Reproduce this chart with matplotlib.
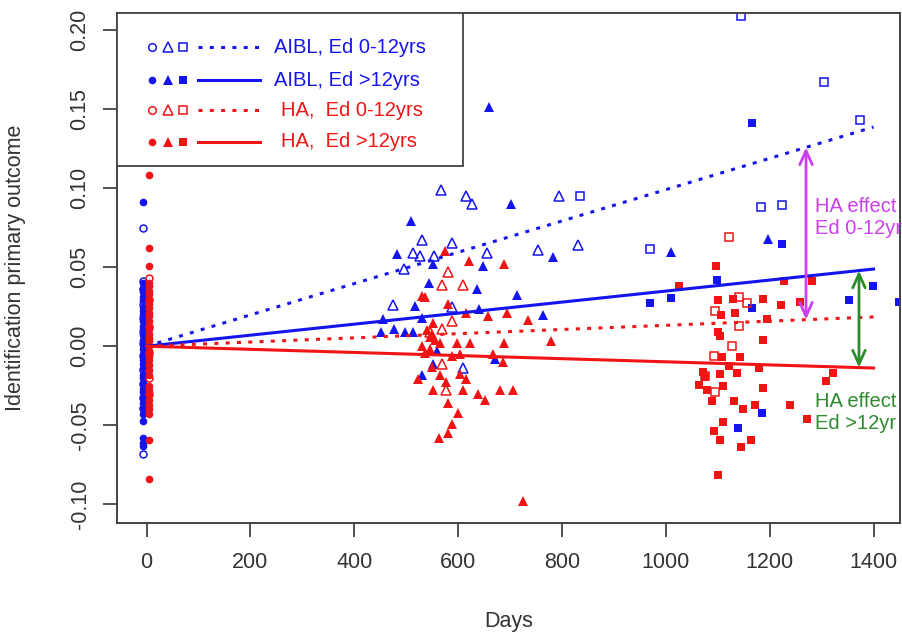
import numpy as np
import matplotlib
matplotlib.use("Agg")
import matplotlib.pyplot as plt
from matplotlib.patches import Rectangle

plt.rcParams["font.family"] = ["Liberation Sans", "DejaVu Sans"]
plt.rcParams["axes.unicode_minus"] = False

BLUE = "#1414ee"
RED = "#f01414"
MAGENTA = "#cc3fee"
GREEN = "#2e8b2e"

# ---- data ----
# baseline visit (circles), plotted just left / right of day 0
aibl_day0 = -7
ha_day0 = 5
aibl_lo_circle_y = [0.075, 0.041, 0.036, 0.027, 0.018, 0.009, 0.002, -0.006,
                    -0.015, -0.024, -0.033, -0.039, -0.068]
aibl_hi_circle_y = [0.091, 0.040, 0.037, 0.034, 0.031, 0.029, 0.025, 0.022,
                    0.020, 0.016, 0.013, 0.011, 0.007, 0.004, 0.001, -0.002,
                    -0.005, -0.009, -0.011, -0.014, -0.018, -0.020, -0.023,
                    -0.027, -0.029, -0.032, -0.036, -0.040, -0.043, -0.047,
                    -0.058, -0.061, -0.063]
ha_lo_circle_y = [0.043, 0.029, 0.012, -0.004, -0.020, -0.030]
ha_hi_circle_y = [0.108, 0.062, 0.051, 0.040, 0.038, 0.035, 0.033, 0.030,
                  0.027, 0.024, 0.021, 0.019, 0.016, 0.013, 0.011, 0.008,
                  0.005, 0.003, 0.000, -0.003, -0.006, -0.009, -0.012,
                  -0.015, -0.018, -0.025, -0.028, -0.031, -0.034, -0.037,
                  -0.040, -0.043, -0.059, -0.084]

# second visit (triangles)
aibl_lo_tri_x = [567, 615, 626, 795, 530, 589, 513, 526, 553, 655, 753, 831,
                 496, 475, 588, 610]
aibl_lo_tri_y = [0.099, 0.095, 0.090, 0.095, 0.067, 0.065, 0.059, 0.057,
                 0.057, 0.059, 0.061, 0.064, 0.049, 0.026, 0.025, -0.014]
aibl_hi_tri_x = [510, 701, 483, 552, 647, 782, 544, 636, 714, 517, 530, 641,
                 763, 456, 451, 476, 498, 514, 559, 671, 530, 552, 660, 1010,
                 1196]
aibl_hi_tri_y = [0.079, 0.090, 0.058, 0.052, 0.051, 0.0565, 0.040, 0.036,
                 0.0325, 0.0255, 0.0177, 0.0238, 0.0198, 0.017, 0.009, 0.0108,
                 0.0087, 0.0087, -0.003, -0.008, -0.018, -0.0114, 0.151,
                 0.0594, 0.068]
ha_lo_tri_x = [581, 568, 610, 588, 568, 546, 577, 568]
ha_lo_tri_y = [0.047, 0.039, 0.039, 0.016, 0.0108, 0.009, -0.028, -0.0114]
ha_hi_tri_x = [575, 620, 689, 530, 536, 581, 616, 658, 694, 735, 552, 540,
               545, 565, 597, 623, 689, 778, 536, 604, 668, 687, 549, 523,
               565, 577, 604, 616, 551, 609, 639, 652, 681, 706, 581, 599,
               588, 581, 563, 724, 588, 530, 549, 556, 545]
ha_hi_tri_y = [0.060, 0.054, 0.052, 0.032, 0.031, 0.027, 0.021, 0.019, 0.021,
               0.0167, 0.0146, 0.010, 0.006, 0.0023, 0.0023, 0.0023, 0.0023,
               0.0034, -0.004, -0.005, -0.005, -0.010, -0.013, -0.021, -0.018,
               -0.0226, -0.0177, -0.0205, -0.028, -0.028, -0.030, -0.034,
               -0.028, -0.028, -0.036, -0.042, -0.049, -0.055, -0.058, -0.098,
               -0.006, 0.000, 0.008, 0.004, -0.002]

# third visit (squares)
aibl_lo_sq_x = [835, 970, 1145, 1304, 1374, 1183, 1223]
aibl_lo_sq_y = [0.095, 0.0615, 0.209, 0.167, 0.143, 0.088, 0.089]
aibl_hi_sq_x = [1166, 1099, 970, 1010, 1166, 1352, 1399, 1450, 1185, 1139, 1224]
aibl_hi_sq_y = [0.141, 0.0419, 0.0275, 0.0303, 0.024, 0.029, 0.038, 0.0277,
                -0.0424, -0.052, 0.0646]
ha_lo_sq_x = [1140, 1156, 1095, 1140, 1127, 1092, 1076, 1095, 1121]
ha_lo_sq_y = [0.031, 0.0276, 0.0224, 0.0125, 0.0002, -0.0065, -0.019, -0.0287,
              0.069]
ha_hi_sq_x = [1097, 1026, 1227, 1282, 1100, 1129, 1187, 1222, 1259, 1134, 1107,
              1194, 1188, 1105, 1108, 1143, 1121, 1179, 1072, 1137, 1104, 1322,
              1309, 1076, 1063, 1079, 1110, 1188, 1089, 1132, 1149, 1171, 1240,
              1271, 1111, 1093, 1105, 1164, 1145, 1100, 1100]
ha_hi_sq_y = [0.051, 0.038, 0.041, 0.041, 0.029, 0.030, 0.030, 0.026, 0.0277,
              0.0213, 0.0198, 0.017, 0.004, 0.0063, -0.007, -0.0068, -0.0124,
              -0.014, -0.0163, -0.0167, -0.0177, -0.0167, -0.022, -0.0194,
              -0.0245, -0.0277, -0.025, -0.0266, -0.0346, -0.0346, -0.0394,
              -0.037, -0.037, -0.0458, -0.0477, -0.0536, -0.0595, -0.0593,
              -0.064, -0.0815, 0.009]

# fitted lines: value at day 1400 (all start at 0 on day 0)
line_end_day = 1400
aibl_lo_end = 0.1386
aibl_hi_end = 0.0488
ha_lo_end = 0.0185
ha_hi_end = -0.0138

x_ticks = [0, 200, 400, 600, 800, 1000, 1200, 1400]
y_ticks = [-0.10, -0.05, 0.00, 0.05, 0.10, 0.15, 0.20]

legend_labels = ["AIBL, Ed 0-12yrs", "AIBL, Ed >12yrs",
                 "HA,  Ed 0-12yrs", "HA,  Ed >12yrs"]

# ---- figure ----
fig = plt.figure(figsize=(9.03, 6.39), dpi=100)
ax = fig.add_axes([117 / 903, 1 - 523 / 639, 783 / 903, 510.3 / 639])

open_kw = dict(linestyle="none", markerfacecolor="none", markeredgewidth=1.1)
fill_kw = dict(linestyle="none", markeredgewidth=0)

# circles at day 0
ax.plot([aibl_day0] * len(aibl_hi_circle_y), aibl_hi_circle_y, "o", color=BLUE, ms=5.5, **fill_kw)
ax.plot([aibl_day0] * len(aibl_lo_circle_y), aibl_lo_circle_y, "o", color=BLUE, ms=5, **open_kw)
ax.plot([ha_day0] * len(ha_hi_circle_y), ha_hi_circle_y, "o", color=RED, ms=5.5, **fill_kw)
ax.plot([ha_day0] * len(ha_lo_circle_y), ha_lo_circle_y, "o", color=RED, ms=5, **open_kw)

# triangles
ax.plot(aibl_lo_tri_x, aibl_lo_tri_y, "^", color=BLUE, ms=7, **open_kw)
ax.plot(aibl_hi_tri_x, aibl_hi_tri_y, "^", color=BLUE, ms=7.5, **fill_kw)
ax.plot(ha_lo_tri_x, ha_lo_tri_y, "^", color=RED, ms=7, **open_kw)
ax.plot(ha_hi_tri_x, ha_hi_tri_y, "^", color=RED, ms=7.5, **fill_kw)

# squares
ax.plot(aibl_lo_sq_x, aibl_lo_sq_y, "s", color=BLUE, ms=5.5, **open_kw)
ax.plot(aibl_hi_sq_x, aibl_hi_sq_y, "s", color=BLUE, ms=5.5, **fill_kw)
ax.plot(ha_lo_sq_x, ha_lo_sq_y, "s", color=RED, ms=5.5, **open_kw)
ax.plot(ha_hi_sq_x, ha_hi_sq_y, "s", color=RED, ms=5.5, **fill_kw)

# regression lines
dots = (0, (1.3, 2.4))
xs = np.array([0, line_end_day])
ax.plot(xs, [0, aibl_lo_end], color=BLUE, lw=2.2, linestyle=dots)
ax.plot(xs, [0, aibl_hi_end], color=BLUE, lw=2.2)
ax.plot(xs, [0, ha_lo_end], color=RED, lw=2.2, linestyle=dots)
ax.plot(xs, [0, ha_hi_end], color=RED, lw=2.2)

# HA effect arrows
def at(end, day):
    return end / line_end_day * day

d1, d2 = 1270, 1372
ax.annotate("", xy=(d1, at(ha_lo_end, d1)), xytext=(d1, at(aibl_lo_end, d1)),
            arrowprops=dict(arrowstyle="<->,head_length=1.0,head_width=0.45",
                            color=MAGENTA, lw=2, shrinkA=0, shrinkB=0))
ax.annotate("", xy=(d2, at(ha_hi_end, d2)), xytext=(d2, at(aibl_hi_end, d2)),
            arrowprops=dict(arrowstyle="<->,head_length=1.0,head_width=0.45",
                            color=GREEN, lw=2, shrinkA=0, shrinkB=0))
ax.text(1288, 0.0815, "HA effect\nEd 0-12yrs", color=MAGENTA, fontsize=14.5,
        va="center", ha="left", linespacing=1.2, clip_on=False)
ax.text(1288, -0.042, "HA effect\nEd >12yr", color=GREEN, fontsize=14.5,
        va="center", ha="left", linespacing=1.2, clip_on=False)

# axes styling (R-like)
ax.set_xlim(-57, 1451)
ax.set_ylim(-0.1118, 0.2109)
ax.set_xticks(x_ticks)
ax.set_xticklabels([str(t) for t in x_ticks])
ax.set_yticks(y_ticks)
ax.set_yticklabels([f"{t:.2f}" for t in y_ticks])
for s in ax.spines.values():
    s.set_color("#444444")
    s.set_linewidth(1.4)
ax.tick_params(axis="both", direction="out", length=10, width=1.3,
               color="#444444", labelcolor="#333333", labelsize=15.5)
ax.tick_params(axis="x", pad=11)
ax.tick_params(axis="y", pad=9, labelrotation=90)
for lab in ax.get_yticklabels():
    lab.set_verticalalignment("center")
ax.set_xlabel("Days", fontsize=15.5, color="#333333", va="center")
ax.xaxis.set_label_coords(0.5, -0.193)
ax.set_ylabel("Identification primary outcome", fontsize=15.5, color="#333333",
              va="center")
ax.yaxis.set_label_coords(-0.130, 0.5)

# legend drawn R-style in the top-left corner
ax.add_patch(Rectangle((0, 0.700), 0.442, 0.300, transform=ax.transAxes,
                       facecolor="white", edgecolor="#444444", lw=1.3, zorder=5))
row_y = [0.932, 0.868, 0.809, 0.747]
row_col = [BLUE, BLUE, RED, RED]
row_open = [True, False, True, False]
text_x = [0.2005, 0.2005, 0.209, 0.209]
for y, c, is_open, tx, lab in zip(row_y, row_col, row_open, text_x, legend_labels):
    kw = open_kw if is_open else fill_kw
    for mx, m, ms in [(0.0444, "o", 5.5), (0.0655, "^", 7), (0.0847, "s", 5.5)]:
        ax.plot([mx], [y], m, color=c, ms=ms, transform=ax.transAxes,
                zorder=6, clip_on=False, **kw)
    ax.plot([0.1034, 0.1826], [y, y], color=c, lw=2.2,
            linestyle=dots if is_open else "-", transform=ax.transAxes, zorder=6)
    ax.text(tx, y, lab, color=c, fontsize=14.5, va="center", ha="left",
            transform=ax.transAxes, zorder=6)

fig.savefig("out.png", dpi=100)
